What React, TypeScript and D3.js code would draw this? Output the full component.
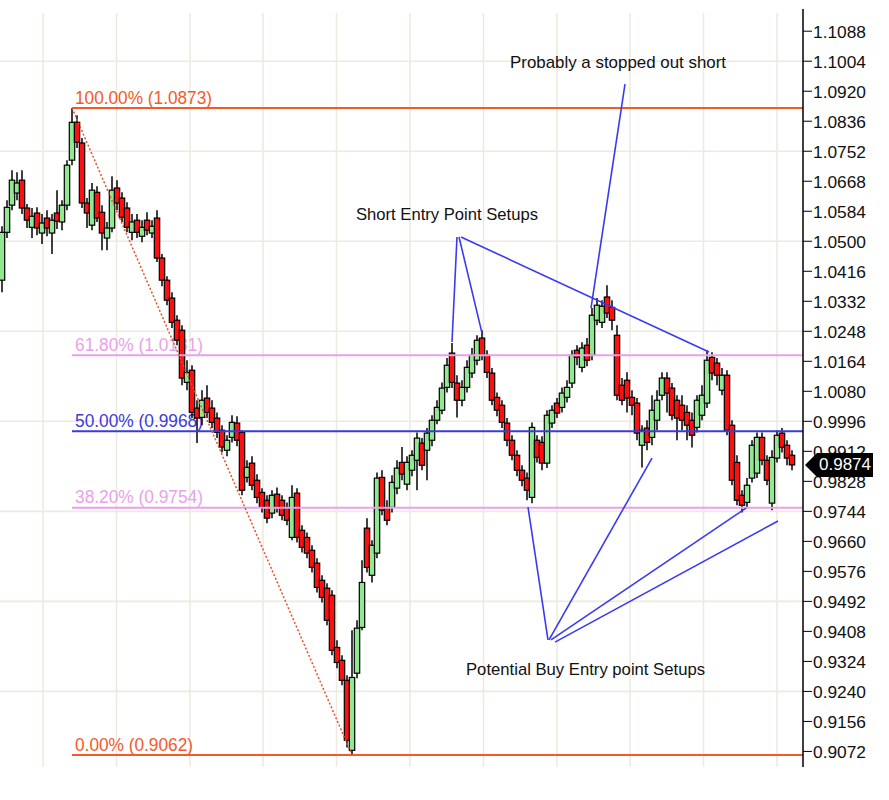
import React from "react";
import * as d3 from "d3";

// [open, high, low, close]
const candles: [number, number, number, number][] = [
  [1.0391, 1.0542, 1.0357, 1.0525], [1.0525, 1.0615, 1.0509, 1.0595], [1.0601, 1.0699, 1.0587, 1.0671],
  [1.0635, 1.0693, 1.0615, 1.0663], [1.0671, 1.0699, 1.0576, 1.0593], [1.0593, 1.0604, 1.0537, 1.0559],
  [1.0539, 1.0593, 1.0509, 1.0570], [1.0579, 1.0595, 1.0517, 1.0537], [1.0523, 1.0576, 1.0492, 1.0551],
  [1.0565, 1.0587, 1.0514, 1.0537], [1.0523, 1.0576, 1.0464, 1.0559], [1.0579, 1.0643, 1.0534, 1.0556],
  [1.0554, 1.0615, 1.0531, 1.0601], [1.0601, 1.0727, 1.0587, 1.0713], [1.0727, 1.0873, 1.0713, 1.0833],
  [1.0833, 1.0853, 1.0761, 1.0777], [1.0775, 1.0789, 1.0593, 1.0607], [1.0607, 1.0621, 1.0537, 1.0579],
  [1.0545, 1.0663, 1.0531, 1.0643], [1.0637, 1.0654, 1.0554, 1.0565], [1.0581, 1.0601, 1.0475, 1.0523],
  [1.0509, 1.0554, 1.0475, 1.0537], [1.0537, 1.0682, 1.0525, 1.0643], [1.0649, 1.0671, 1.0587, 1.0607],
  [1.0621, 1.0637, 1.0554, 1.0567], [1.0593, 1.0609, 1.0525, 1.0539], [1.0525, 1.0576, 1.0503, 1.0554],
  [1.0559, 1.0576, 1.0509, 1.0525], [1.0514, 1.0559, 1.0497, 1.0539], [1.0559, 1.0581, 1.0517, 1.0531],
  [1.0523, 1.0559, 1.0509, 1.0542], [1.0565, 1.0587, 1.0442, 1.0453], [1.0453, 1.0464, 1.0374, 1.0391],
  [1.0391, 1.0402, 1.0321, 1.0335], [1.0341, 1.0357, 1.0257, 1.0273], [1.0279, 1.0293, 1.0209, 1.0223],
  [1.0251, 1.0265, 1.0097, 1.0117], [1.0105, 1.0167, 1.0083, 1.0133], [1.0139, 1.0153, 1.0005, 1.0021],
  [1.0033, 1.0055, 0.9935, 1.0005], [1.0007, 1.0083, 0.9985, 1.0055], [1.0061, 1.0097, 1.0005, 1.0021],
  [1.0033, 1.0055, 0.9977, 0.9993], [1.0005, 1.0021, 0.9949, 0.9965], [0.9971, 0.9985, 0.9909, 0.9924],
  [0.9915, 0.9957, 0.9898, 0.9943], [0.9951, 1.0013, 0.9937, 0.9993], [0.9991, 1.0010, 0.9926, 0.9943],
  [0.9965, 0.9971, 0.9789, 0.9803], [0.9839, 0.9887, 0.9825, 0.9867], [0.9879, 0.9898, 0.9803, 0.9817],
  [0.9831, 0.9848, 0.9767, 0.9783], [0.9797, 0.9809, 0.9741, 0.9755], [0.9775, 0.9789, 0.9711, 0.9725],
  [0.9739, 0.9803, 0.9725, 0.9789], [0.9792, 0.9811, 0.9741, 0.9755], [0.9775, 0.9789, 0.9719, 0.9733],
  [0.9755, 0.9769, 0.9705, 0.9719], [0.9671, 0.9817, 0.9663, 0.9783], [0.9795, 0.9809, 0.9657, 0.9671],
  [0.9691, 0.9705, 0.9629, 0.9643], [0.9671, 0.9685, 0.9613, 0.9627], [0.9635, 0.9649, 0.9573, 0.9587],
  [0.9599, 0.9613, 0.9517, 0.9531], [0.9551, 0.9565, 0.9489, 0.9503], [0.9529, 0.9543, 0.9425, 0.9439],
  [0.9509, 0.9523, 0.9341, 0.9355], [0.9363, 0.9383, 0.9305, 0.9321], [0.9327, 0.9341, 0.9257, 0.9271],
  [0.9271, 0.9285, 0.9083, 0.9103], [0.9075, 0.9411, 0.9062, 0.9279], [0.9291, 0.9439, 0.9277, 0.9417],
  [0.9419, 0.9607, 0.9411, 0.9545], [0.9697, 0.9725, 0.9573, 0.9587], [0.9565, 0.9663, 0.9545, 0.9649],
  [0.9627, 0.9853, 0.9613, 0.9837], [0.9839, 0.9859, 0.9733, 0.9747], [0.9755, 0.9775, 0.9705, 0.9719],
  [0.9755, 0.9845, 0.9741, 0.9825], [0.9809, 0.9887, 0.9792, 0.9865], [0.9881, 0.9924, 0.9831, 0.9848],
  [0.9820, 0.9898, 0.9803, 0.9881], [0.9859, 0.9915, 0.9842, 0.9901], [0.9887, 0.9965, 0.9803, 0.9949],
  [0.9935, 0.9949, 0.9859, 0.9873], [0.9915, 0.9977, 0.9831, 0.9963], [0.9943, 1.0013, 0.9926, 0.9999],
  [0.9999, 1.0055, 0.9988, 1.0035], [1.0027, 1.0105, 1.0016, 1.0089], [1.0091, 1.0173, 1.0077, 1.0153],
  [1.0187, 1.0215, 1.0089, 1.0105], [1.0103, 1.0125, 1.0007, 1.0055], [1.0055, 1.0111, 1.0038, 1.0091],
  [1.0091, 1.0167, 1.0077, 1.0147], [1.0131, 1.0201, 1.0117, 1.0181], [1.0167, 1.0237, 1.0153, 1.0223],
  [1.0229, 1.0251, 1.0167, 1.0181], [1.0181, 1.0195, 1.0117, 1.0133], [1.0131, 1.0145, 1.0041, 1.0055],
  [1.0063, 1.0077, 1.0010, 1.0027], [1.0041, 1.0055, 0.9977, 0.9993], [0.9991, 1.0005, 0.9926, 0.9943],
  [0.9943, 0.9957, 0.9887, 0.9901], [0.9901, 0.9915, 0.9842, 0.9859], [0.9859, 0.9873, 0.9814, 0.9831],
  [0.9837, 0.9853, 0.9775, 0.9803], [0.9783, 0.9993, 0.9767, 0.9979], [0.9943, 0.9957, 0.9881, 0.9895],
  [0.9937, 0.9954, 0.9859, 0.9879], [0.9879, 1.0027, 0.9865, 1.0013], [0.9991, 1.0041, 0.9977, 1.0027],
  [1.0047, 1.0061, 1.0005, 1.0019], [1.0035, 1.0091, 1.0021, 1.0075], [1.0063, 1.0111, 1.0049, 1.0091],
  [1.0103, 1.0195, 1.0089, 1.0181], [1.0195, 1.0209, 1.0153, 1.0175], [1.0147, 1.0217, 1.0133, 1.0201],
  [1.0209, 1.0229, 1.0150, 1.0167], [1.0181, 1.0313, 1.0167, 1.0293], [1.0279, 1.0341, 1.0265, 1.0321],
  [1.0273, 1.0335, 1.0257, 1.0318], [1.0344, 1.0377, 1.0285, 1.0299], [1.0315, 1.0335, 1.0251, 1.0279],
  [1.0237, 1.0265, 1.0055, 1.0069], [1.0097, 1.0117, 1.0041, 1.0055], [1.0111, 1.0133, 1.0021, 1.0061],
  [1.0063, 1.0083, 1.0013, 1.0041], [1.0047, 1.0061, 0.9943, 0.9963], [0.9929, 0.9985, 0.9867, 0.9971],
  [0.9977, 0.9999, 0.9915, 0.9937], [0.9951, 1.0069, 0.9929, 1.0027], [0.9999, 1.0083, 0.9971, 1.0055],
  [1.0069, 1.0133, 1.0055, 1.0117], [1.0117, 1.0133, 1.0021, 1.0075], [1.0089, 1.0103, 0.9999, 1.0013],
  [1.0055, 1.0069, 0.9943, 1.0005], [1.0041, 1.0069, 0.9971, 0.9999], [1.0021, 1.0041, 0.9943, 0.9985],
  [0.9999, 1.0021, 0.9923, 0.9957], [0.9979, 1.0069, 0.9965, 1.0055], [1.0013, 1.0097, 0.9999, 1.0069],
  [1.0047, 1.0195, 1.0033, 1.0167], [1.0175, 1.0189, 1.0111, 1.0131], [1.0159, 1.0173, 1.0097, 1.0125],
  [1.0083, 1.0145, 1.0069, 1.0125], [1.0125, 1.0139, 0.9957, 0.9971], [0.9985, 0.9999, 0.9817, 0.9831],
  [0.9881, 0.9901, 0.9761, 0.9775], [0.9789, 0.9803, 0.9741, 0.9761], [0.9769, 0.9837, 0.9753, 0.9817],
  [0.9837, 0.9943, 0.9825, 0.9929], [0.9851, 0.9965, 0.9837, 0.9951], [0.9951, 0.9965, 0.9873, 0.9887],
  [0.9887, 0.9901, 0.9817, 0.9831], [0.9767, 0.9915, 0.9747, 0.9895], [0.9893, 0.9971, 0.9881, 0.9957],
  [0.9963, 0.9977, 0.9909, 0.9923], [0.9929, 0.9943, 0.9873, 0.9893], [0.9901, 0.9915, 0.9859, 0.9874],
];

const axisTicks = [
  0.9072, 0.9156, 0.924, 0.9324, 0.9408, 0.9492, 0.9576, 0.966, 0.9744, 0.9828, 0.9912, 0.9996, 1.008,
  1.0164, 1.0248, 1.0332, 1.0416, 1.05, 1.0584, 1.0668, 1.0752, 1.0836, 1.092, 1.1004, 1.1088,
];
const gridPrices = [1.1004, 1.0752, 1.05, 1.0248, 0.9996, 0.9744, 0.9492, 0.924];
const gridIndices = [8.2, 22.9, 37.6, 52.2, 66.9, 81.6, 96.3, 111.0, 125.6, 140.3, 155.0];

const fibPercents = ["100.00%", "61.80%", "50.00%", "38.20%", "0.00%"];
const fibValues = [1.0873, 1.0181, 0.9968, 0.9754, 0.9062];
const fibColors = ["#f4592a", "#e9a2e9", "#3b3bd9", "#e9a2e9", "#f4592a"];
const fibLabelWidths = [137, 128, 128, 128, 118];

const swingHighIndex = 14;
const swingLowIndex = 70;

const noteTexts = ["Probably a stopped out short", "Short Entry Point Setups", "Potential Buy Entry point Setups"];
const noteAnchors: [number, number][] = [[123.2, 1.0985], [89, 1.056], [116.7, 0.9286]];
const noteWidths = [216, 182, 239];

// [index1, price1, index2, price2]
const noteLines: [number, number, number, number][] = [
  [124.6, 1.094, 117.8, 1.0313],
  [91, 1.0512, 90, 1.0218],
  [91.4, 1.0512, 96, 1.0243],
  [91.8, 1.0512, 141.4, 1.019],
  [109.2, 0.9384, 105.2, 0.9756],
  [109.4, 0.9384, 130, 0.9893],
  [109.8, 0.9384, 148.8, 0.9753],
  [110.6, 0.9378, 155.2, 0.9717],
];

const W = 889;
const H = 800;
const AXIS_X = 803;
const FONT = "'Liberation Sans', Arial, sans-serif";

export default function App() {
  const n = candles.length;
  const x = d3.scaleLinear().domain([0, n - 1]).range([2, 792]);
  const y = d3.scaleLinear().domain([0.9062, 1.0873]).range([755, 108]);
  const bodyW = 5.4;
  const last = candles[n - 1][3];
  const ty = y(last);
  const tag = d3.path();
  tag.moveTo(AXIS_X + 2, ty);
  tag.lineTo(AXIS_X + 14, ty - 12);
  tag.lineTo(AXIS_X + 70, ty - 12);
  tag.lineTo(AXIS_X + 70, ty + 12);
  tag.lineTo(AXIS_X + 14, ty + 12);
  tag.closePath();
  const fibX0 = x(swingHighIndex);

  return (
    <svg width={W} height={H} style={{ position: "absolute", left: 0, top: 0, background: "#fff" }}>
      <rect x={0} y={0} width={W} height={H} fill="#fff" />
      {/* grid */}
      <g stroke="#eeeae0" strokeWidth={1.6}>
        {gridIndices.map((g, k) => (
          <line key={"gv" + k} x1={x(g)} x2={x(g)} y1={13} y2={767} />
        ))}
        {gridPrices.map((g, k) => (
          <line key={"gh" + k} x1={0} x2={AXIS_X} y1={y(g)} y2={y(g)} />
        ))}
      </g>
      {/* fib labels */}
      <g fontFamily={FONT} fontSize={18}>
        {fibValues.map((v, k) => (
          <text key={"fl" + k} x={fibX0 + 3} y={y(v) - 4.5} fill={fibColors[k]}
            textLength={fibLabelWidths[k]} lengthAdjust="spacingAndGlyphs">
            {`${fibPercents[k]} (${v.toFixed(4)})`}
          </text>
        ))}
      </g>
      {/* candles */}
      <g>
        {candles.map((c, i) => (
          <line key={"w" + i} x1={x(i)} x2={x(i)} y1={y(c[1])} y2={y(c[2])} stroke="#000" strokeWidth={1.5} />
        ))}
        {candles.map((c, i) => {
          const top = y(Math.max(c[0], c[3]));
          const bot = y(Math.min(c[0], c[3]));
          return (
            <rect key={"b" + i} x={x(i) - bodyW / 2} y={top} width={bodyW} height={Math.max(1, bot - top)}
              fill={c[3] >= c[0] ? "#90e890" : "#ff1010"} stroke="#000" strokeWidth={1.2} />
          );
        })}
      </g>
      {/* fib lines */}
      <g strokeWidth={2}>
        {fibValues.map((v, k) => (
          <line key={"fib" + k} x1={fibX0} x2={AXIS_X} y1={y(v)} y2={y(v)} stroke={fibColors[k]} />
        ))}
      </g>
      {/* swing line */}
      <line x1={x(swingHighIndex)} y1={y(candles[swingHighIndex][1])} x2={x(swingLowIndex)}
        y2={y(candles[swingLowIndex][2])} stroke="#e8502a" strokeWidth={1.5} strokeDasharray="2,2" />
      {/* annotation lines */}
      <g stroke="#3a3af0" strokeWidth={1.6}>
        {noteLines.map((l, k) => (
          <line key={"nl" + k} x1={x(l[0])} y1={y(l[1])} x2={x(l[2])} y2={y(l[3])} />
        ))}
      </g>
      <g fontFamily={FONT} fontSize={17} fill="#111">
        {noteTexts.map((t, k) => (
          <text key={"nt" + k} x={x(noteAnchors[k][0]) - noteWidths[k] / 2} y={y(noteAnchors[k][1])}
            textLength={noteWidths[k]} lengthAdjust="spacingAndGlyphs">
            {t}
          </text>
        ))}
      </g>
      {/* axis */}
      <line x1={AXIS_X} x2={AXIS_X} y1={9} y2={767} stroke="#000" strokeWidth={1.5} />
      <g fontFamily={FONT} fontSize={17} fill="#111">
        {axisTicks.map((t, k) => (
          <g key={"t" + k}>
            <line x1={AXIS_X} x2={AXIS_X + 9} y1={y(t)} y2={y(t)} stroke="#000" strokeWidth={1} />
            <text x={AXIS_X + 10} y={y(t) + 2} dominantBaseline="middle" textLength={53} lengthAdjust="spacingAndGlyphs">
              {t.toFixed(4)}
            </text>
          </g>
        ))}
      </g>
      {/* last price tag */}
      <path d={tag.toString()} fill="#000" />
      <text x={AXIS_X + 16} y={ty + 1} dominantBaseline="middle" fontFamily={FONT} fontSize={17} fill="#fff"
        textLength={52} lengthAdjust="spacingAndGlyphs">
        {last.toFixed(4)}
      </text>
    </svg>
  );
}
